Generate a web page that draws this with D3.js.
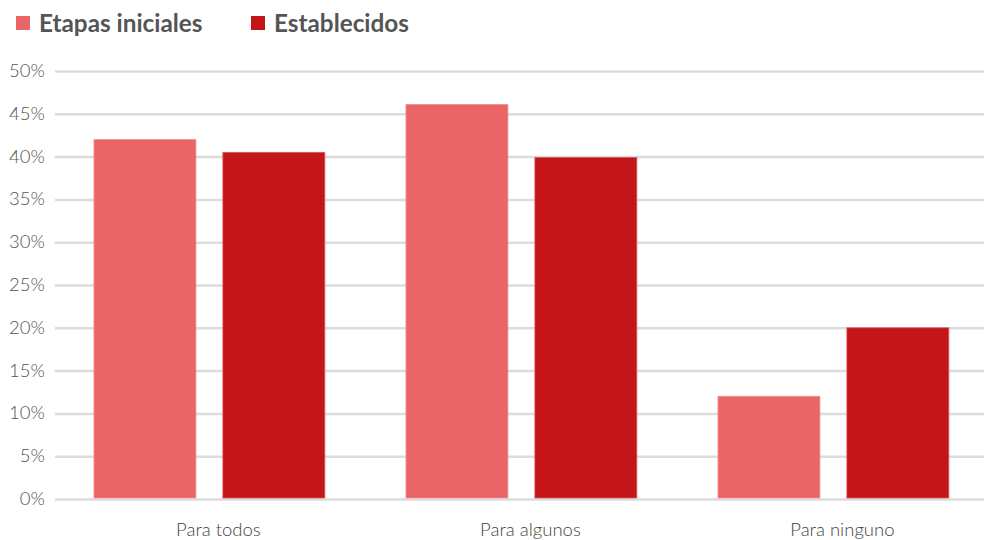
<!DOCTYPE html>
<html>
<head>
<meta charset="utf-8">
<script src="https://cdn.jsdelivr.net/npm/d3@7"></script>
<style>
  body { margin: 0; background: #fff; }
  svg { display: block; }
  text { font-family: Lato, "Open Sans", sans-serif; }
  .light { font-family: "Lato Light", Lato, sans-serif; font-weight: 300; }
</style>
</head>
<body>
<svg id="chart" width="984" height="540"></svg>
<script>
const categories = ["Para todos", "Para algunos", "Para ninguno"];
const seriesNames = ["Etapas iniciales", "Establecidos"];
const etapasIniciales = [0.42, 0.461, 0.12];
const establecidos = [0.405, 0.399, 0.20];
const yTicks = [0, 0.05, 0.10, 0.15, 0.20, 0.25, 0.30, 0.35, 0.40, 0.45, 0.50];
const colors = ["#EA6566", "#C41618"];

const seriesValues = [etapasIniciales, establecidos];
const W = 984, H = 540;
const svg = d3.select("#chart");

const y = d3.scaleLinear().domain([0, 0.5]).range([499, 71]);
const x0 = d3.scaleBand().domain(categories).range([53.4, 989.4]).paddingInner(0.26).paddingOuter(0.13);
const x1 = d3.scaleBand().domain(seriesNames).range([0, x0.bandwidth()]).paddingInner(0.209);

// grid
const yAxis = d3.axisLeft(y).tickValues(yTicks).tickFormat(d3.format(".0%")).tickSize(-(W - 55)).tickPadding(10);
const gy = svg.append("g").attr("transform", "translate(55,0)").call(yAxis);
gy.attr("font-family", null).attr("font-size", null);
gy.select(".domain").remove();
gy.selectAll(".tick line").attr("stroke", "#dcdcdc").attr("stroke-width", 2.5);
gy.selectAll(".tick text").attr("class", "light").attr("fill", "#555").attr("font-size", 18.5).attr("x", -10).attr("dy", "0.3em");

// bars
const groups = svg.append("g").selectAll("g").data(categories).join("g")
  .attr("transform", d => `translate(${x0(d)},0)`);
groups.selectAll("rect").data((c, i) => seriesNames.map((s, k) => ({s, k, v: seriesValues[k][i]})))
  .join("rect")
  .attr("x", d => x1(d.s))
  .attr("width", x1.bandwidth())
  .attr("y", d => y(d.v))
  .attr("height", d => y(0) - y(d.v) - 1)
  .attr("fill", d => colors[d.k])
  .attr("stroke", d => d.k === 0 ? "#f29294" : "#d8595a")
  .attr("stroke-width", 0.8);

// x labels
const xAxis = d3.axisBottom(x0).tickSize(0).tickPadding(0);
const gx = svg.append("g").attr("transform", "translate(9,500)").call(xAxis);
gx.attr("font-family", null).attr("font-size", null);
gx.select(".domain").remove();
gx.selectAll(".tick text").attr("class", "light").attr("fill", "#444").attr("font-size", 18.5).attr("dy", "1.95em");

// legend
const legendX = [16, 251];
const lg = svg.append("g").selectAll("g").data(seriesNames).join("g")
  .attr("transform", (d, i) => `translate(${legendX[i]},16)`);
lg.append("rect").attr("width", 14).attr("height", 14).attr("fill", (d, i) => colors[i]);
lg.append("text").attr("x", 23).attr("y", 15.5).text(d => d)
  .attr("fill", "#555").attr("font-size", 24.3).attr("font-weight", 700);
</script>
</body>
</html>
